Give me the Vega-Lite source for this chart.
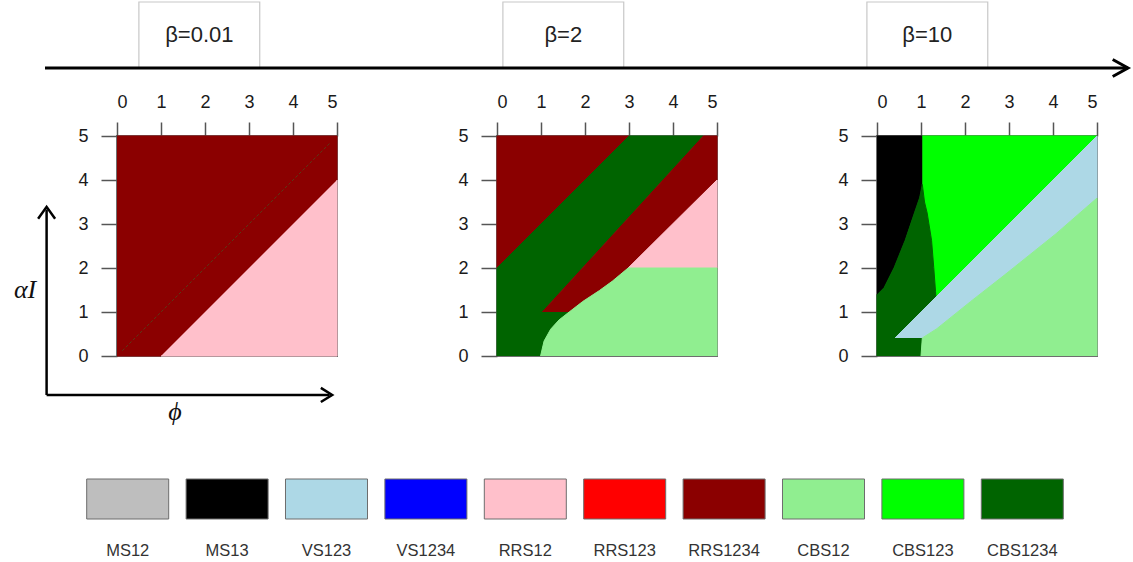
{
  "$schema": "https://vega.github.io/schema/vega-lite/v6.json",
  "padding": {"left": 12, "top": 1, "right": 0, "bottom": 0},
  "bounds": "flush",
  "spacing": 68,
  "config": {
    "view": {"stroke": "#6e6e6e", "strokeWidth": 2},
    "font": "Liberation Sans",
    "axis": {"labelFont": "Liberation Sans", "labelFontSize": 18, "labelColor": "#1a1a1a", "tickColor": "#555", "tickWidth": 1.5, "domain": false, "grid": false, "title": null}
  },
  "datasets": {
    "legend": [
      {"name": "MS12"}, {"name": "MS13"}, {"name": "VS123"}, {"name": "VS1234"}, {"name": "RRS12"},
      {"name": "RRS123"}, {"name": "RRS1234"}, {"name": "CBS12"}, {"name": "CBS123"}, {"name": "CBS1234"}
    ],
    "p1": [
      {"poly": "a", "region": "RRS1234", "i": 0, "phi": 0, "aI": 0},
      {"poly": "a", "region": "RRS1234", "i": 1, "phi": 1, "aI": 0},
      {"poly": "a", "region": "RRS1234", "i": 2, "phi": 5, "aI": 4},
      {"poly": "a", "region": "RRS1234", "i": 3, "phi": 5, "aI": 5},
      {"poly": "a", "region": "RRS1234", "i": 4, "phi": 0, "aI": 5},
      {"poly": "b", "region": "RRS12", "i": 0, "phi": 1, "aI": 0},
      {"poly": "b", "region": "RRS12", "i": 1, "phi": 5, "aI": 0},
      {"poly": "b", "region": "RRS12", "i": 2, "phi": 5, "aI": 4}
    ],
    "p2": [
      {"poly": "a", "region": "RRS1234", "i": 0, "phi": 0, "aI": 2},
      {"poly": "a", "region": "RRS1234", "i": 1, "phi": 0, "aI": 5},
      {"poly": "a", "region": "RRS1234", "i": 2, "phi": 3, "aI": 5},
      {"poly": "b", "region": "CBS1234", "i": 0, "phi": 0, "aI": 0},
      {"poly": "b", "region": "CBS1234", "i": 1, "phi": 0, "aI": 2},
      {"poly": "b", "region": "CBS1234", "i": 2, "phi": 3, "aI": 5},
      {"poly": "b", "region": "CBS1234", "i": 3, "phi": 4.69, "aI": 5},
      {"poly": "b", "region": "CBS1234", "i": 4, "phi": 1.03, "aI": 1},
      {"poly": "b", "region": "CBS1234", "i": 5, "phi": 1.64, "aI": 1},
      {"poly": "b", "region": "CBS1234", "i": 6, "phi": 1.41, "aI": 0.82},
      {"poly": "b", "region": "CBS1234", "i": 7, "phi": 1.22, "aI": 0.61},
      {"poly": "b", "region": "CBS1234", "i": 8, "phi": 1.07, "aI": 0.34},
      {"poly": "b", "region": "CBS1234", "i": 9, "phi": 0.99, "aI": 0},
      {"poly": "c", "region": "RRS1234", "i": 0, "phi": 1.03, "aI": 1},
      {"poly": "c", "region": "RRS1234", "i": 1, "phi": 4.69, "aI": 5},
      {"poly": "c", "region": "RRS1234", "i": 2, "phi": 5, "aI": 5},
      {"poly": "c", "region": "RRS1234", "i": 3, "phi": 5, "aI": 4},
      {"poly": "c", "region": "RRS1234", "i": 4, "phi": 2.98, "aI": 2},
      {"poly": "c", "region": "RRS1234", "i": 5, "phi": 2.62, "aI": 1.7},
      {"poly": "c", "region": "RRS1234", "i": 6, "phi": 2.33, "aI": 1.49},
      {"poly": "c", "region": "RRS1234", "i": 7, "phi": 1.95, "aI": 1.24},
      {"poly": "c", "region": "RRS1234", "i": 8, "phi": 1.64, "aI": 1},
      {"poly": "d", "region": "RRS12", "i": 0, "phi": 2.98, "aI": 2},
      {"poly": "d", "region": "RRS12", "i": 1, "phi": 5, "aI": 4},
      {"poly": "d", "region": "RRS12", "i": 2, "phi": 5, "aI": 2},
      {"poly": "e", "region": "CBS12", "i": 0, "phi": 0.99, "aI": 0},
      {"poly": "e", "region": "CBS12", "i": 1, "phi": 1.07, "aI": 0.34},
      {"poly": "e", "region": "CBS12", "i": 2, "phi": 1.22, "aI": 0.61},
      {"poly": "e", "region": "CBS12", "i": 3, "phi": 1.41, "aI": 0.82},
      {"poly": "e", "region": "CBS12", "i": 4, "phi": 1.64, "aI": 1},
      {"poly": "e", "region": "CBS12", "i": 5, "phi": 1.95, "aI": 1.24},
      {"poly": "e", "region": "CBS12", "i": 6, "phi": 2.33, "aI": 1.49},
      {"poly": "e", "region": "CBS12", "i": 7, "phi": 2.62, "aI": 1.7},
      {"poly": "e", "region": "CBS12", "i": 8, "phi": 2.98, "aI": 2},
      {"poly": "e", "region": "CBS12", "i": 9, "phi": 5, "aI": 2},
      {"poly": "e", "region": "CBS12", "i": 10, "phi": 5, "aI": 0}
    ],
    "p3": [
      {"poly": "a", "region": "MS13", "i": 0, "phi": 0, "aI": 5},
      {"poly": "a", "region": "MS13", "i": 1, "phi": 1.03, "aI": 5},
      {"poly": "a", "region": "MS13", "i": 2, "phi": 1.03, "aI": 3.9},
      {"poly": "a", "region": "MS13", "i": 3, "phi": 0.97, "aI": 3.6},
      {"poly": "a", "region": "MS13", "i": 4, "phi": 0.85, "aI": 3.25},
      {"poly": "a", "region": "MS13", "i": 5, "phi": 0.64, "aI": 2.63},
      {"poly": "a", "region": "MS13", "i": 6, "phi": 0.39, "aI": 2.01},
      {"poly": "a", "region": "MS13", "i": 7, "phi": 0.16, "aI": 1.55},
      {"poly": "a", "region": "MS13", "i": 8, "phi": 0, "aI": 1.39},
      {"poly": "b", "region": "CBS123", "i": 0, "phi": 1.03, "aI": 5},
      {"poly": "b", "region": "CBS123", "i": 1, "phi": 5, "aI": 5},
      {"poly": "b", "region": "CBS123", "i": 2, "phi": 1.34, "aI": 1.34},
      {"poly": "b", "region": "CBS123", "i": 3, "phi": 1.33, "aI": 1.47},
      {"poly": "b", "region": "CBS123", "i": 4, "phi": 1.29, "aI": 2.01},
      {"poly": "b", "region": "CBS123", "i": 5, "phi": 1.24, "aI": 2.63},
      {"poly": "b", "region": "CBS123", "i": 6, "phi": 1.14, "aI": 3.25},
      {"poly": "b", "region": "CBS123", "i": 7, "phi": 1.08, "aI": 3.5},
      {"poly": "b", "region": "CBS123", "i": 8, "phi": 1.03, "aI": 3.9},
      {"poly": "c", "region": "CBS1234", "i": 0, "phi": 0, "aI": 0},
      {"poly": "c", "region": "CBS1234", "i": 1, "phi": 0, "aI": 1.39},
      {"poly": "c", "region": "CBS1234", "i": 2, "phi": 0.16, "aI": 1.55},
      {"poly": "c", "region": "CBS1234", "i": 3, "phi": 0.39, "aI": 2.01},
      {"poly": "c", "region": "CBS1234", "i": 4, "phi": 0.64, "aI": 2.63},
      {"poly": "c", "region": "CBS1234", "i": 5, "phi": 0.85, "aI": 3.25},
      {"poly": "c", "region": "CBS1234", "i": 6, "phi": 0.97, "aI": 3.6},
      {"poly": "c", "region": "CBS1234", "i": 7, "phi": 1.03, "aI": 3.9},
      {"poly": "c", "region": "CBS1234", "i": 8, "phi": 1.08, "aI": 3.5},
      {"poly": "c", "region": "CBS1234", "i": 9, "phi": 1.14, "aI": 3.25},
      {"poly": "c", "region": "CBS1234", "i": 10, "phi": 1.24, "aI": 2.63},
      {"poly": "c", "region": "CBS1234", "i": 11, "phi": 1.29, "aI": 2.01},
      {"poly": "c", "region": "CBS1234", "i": 12, "phi": 1.33, "aI": 1.47},
      {"poly": "c", "region": "CBS1234", "i": 13, "phi": 1.34, "aI": 1.34},
      {"poly": "c", "region": "CBS1234", "i": 14, "phi": 0.41, "aI": 0.41},
      {"poly": "c", "region": "CBS1234", "i": 15, "phi": 1.03, "aI": 0.41},
      {"poly": "c", "region": "CBS1234", "i": 16, "phi": 1.0, "aI": 0},
      {"poly": "d", "region": "VS123", "i": 0, "phi": 0.41, "aI": 0.41},
      {"poly": "d", "region": "VS123", "i": 1, "phi": 5, "aI": 5},
      {"poly": "d", "region": "VS123", "i": 2, "phi": 5, "aI": 3.59},
      {"poly": "d", "region": "VS123", "i": 3, "phi": 4.07, "aI": 2.78},
      {"poly": "d", "region": "VS123", "i": 4, "phi": 2.91, "aI": 1.85},
      {"poly": "d", "region": "VS123", "i": 5, "phi": 2.13, "aI": 1.24},
      {"poly": "d", "region": "VS123", "i": 6, "phi": 1.36, "aI": 0.62},
      {"poly": "d", "region": "VS123", "i": 7, "phi": 1.03, "aI": 0.41},
      {"poly": "e", "region": "CBS12", "i": 0, "phi": 1.0, "aI": 0},
      {"poly": "e", "region": "CBS12", "i": 1, "phi": 1.03, "aI": 0.41},
      {"poly": "e", "region": "CBS12", "i": 2, "phi": 1.36, "aI": 0.62},
      {"poly": "e", "region": "CBS12", "i": 3, "phi": 2.13, "aI": 1.24},
      {"poly": "e", "region": "CBS12", "i": 4, "phi": 2.91, "aI": 1.85},
      {"poly": "e", "region": "CBS12", "i": 5, "phi": 4.07, "aI": 2.78},
      {"poly": "e", "region": "CBS12", "i": 6, "phi": 5, "aI": 3.59},
      {"poly": "e", "region": "CBS12", "i": 7, "phi": 5, "aI": 0}
    ]
  },
  "vconcat": [
    {
      "width": 1083,
      "height": 66,
      "view": {"stroke": null},
      "layer": [
        {
          "data": {"values": [{"beta": "β=0.01"}, {"beta": "β=2"}, {"beta": "β=10"}]},
          "mark": {"type": "rect", "fill": "transparent", "stroke": "#c8c8c8", "strokeWidth": 1.2},
          "encoding": {
            "x": {"field": "beta", "type": "nominal", "sort": null, "axis": null,
                  "scale": {"type": "band", "paddingInner": 0.668, "paddingOuter": 0.3216, "align": 0.401}}
          }
        },
        {
          "data": {"values": [{"beta": "β=0.01"}, {"beta": "β=2"}, {"beta": "β=10"}]},
          "mark": {"type": "text", "fontSize": 22, "font": "Liberation Sans", "color": "#222", "dy": 0},
          "encoding": {
            "x": {"field": "beta", "type": "nominal", "sort": null, "axis": null},
            "text": {"field": "beta"}
          }
        },
        {
          "data": {"values": [{"dir": "increasing β"}]},
          "mark": {"type": "rule", "strokeWidth": 3, "color": "black"},
          "encoding": {"y": {"value": "height"}}
        },
        {
          "data": {"values": [{"dir": "increasing β"}]},
          "mark": {"type": "point", "shape": "M-1.8,-1L0,0L-1.8,1", "size": 289, "filled": false, "stroke": "black", "strokeWidth": 3, "strokeJoin": "miter", "opacity": 1},
          "encoding": {"x": {"value": "width"}, "y": {"value": "height"}}
        }
      ]
    },
    {
      "bounds": "flush",
      "spacing": 343,
      "vconcat": [
        {
          "bounds": "flush",
          "spacing": 0,
          "hconcat": [
            {"width": 72, "height": 220, "view": {"stroke": null}, "data": {"values": []}, "mark": "point"},
            {
              "bounds": "flush",
              "spacing": 160,
              "hconcat": [
                {
                  "width": 220, "height": 220,
                  "layer": [
                    {
                      "data": {"name": "p1"},
                      "mark": {"type": "line", "strokeWidth": 1, "interpolate": "linear"},
                      "encoding": {
                        "x": {"field": "phi", "type": "quantitative", "scale": {"domain": [0, 5], "nice": false}, "axis": {"orient": "top", "values": [0, 1, 2, 3, 4, 5], "tickSize": 14, "labelPadding": 11}},
                        "y": {"field": "aI", "type": "quantitative", "scale": {"domain": [0, 5], "nice": false}, "axis": {"orient": "left", "values": [0, 1, 2, 3, 4, 5], "tickSize": 16, "labelPadding": 13}},
                        "detail": {"field": "poly"},
                        "order": {"field": "i"},
                        "fill": {"field": "region", "type": "nominal", "legend": null,
                                 "scale": {"domain": ["MS12", "MS13", "VS123", "VS1234", "RRS12", "RRS123", "RRS1234", "CBS12", "CBS123", "CBS1234"],
                                           "range": ["#bebebe", "#000000", "#add8e6", "#0000ff", "#ffc0cb", "#ff0000", "#8b0000", "#90ee90", "#00ff00", "#006400"]}},
                        "stroke": {"field": "region", "type": "nominal", "legend": null,
                                 "scale": {"domain": ["MS12", "MS13", "VS123", "VS1234", "RRS12", "RRS123", "RRS1234", "CBS12", "CBS123", "CBS1234"],
                                           "range": ["#bebebe", "#000000", "#add8e6", "#0000ff", "#ffc0cb", "#ff0000", "#8b0000", "#90ee90", "#00ff00", "#006400"]}}
                      }
                    },
                    {
                      "data": {"values": [{"phi": 0.12, "aI": 0.12, "phi2": 4.85, "aI2": 4.85}]},
                      "mark": {"type": "rule", "color": "#4f4a1e", "strokeWidth": 1, "strokeDash": [3, 2], "opacity": 0.8},
                      "encoding": {
                        "x": {"field": "phi", "type": "quantitative", "scale": {"domain": [0, 5], "nice": false}},
                        "y": {"field": "aI", "type": "quantitative", "scale": {"domain": [0, 5], "nice": false}},
                        "x2": {"field": "phi2"}, "y2": {"field": "aI2"}
                      }
                    },
                    {
                      "data": {"values": [{"phi": -1.6, "aI": -0.886, "phi2": -1.6, "aI2": 3.33}, {"phi": -1.6, "aI": -0.886, "phi2": 4.83, "aI2": -0.886}]},
                      "mark": {"type": "rule", "color": "black", "strokeWidth": 2.5},
                      "encoding": {
                        "x": {"field": "phi", "type": "quantitative", "scale": {"domain": [0, 5], "nice": false}},
                        "y": {"field": "aI", "type": "quantitative", "scale": {"domain": [0, 5], "nice": false}},
                        "x2": {"field": "phi2"}, "y2": {"field": "aI2"}
                      }
                    },
                    {
                      "data": {"values": [{"phi": -1.6, "aI": 3.39}]},
                      "mark": {"type": "point", "shape": "M-1,1.4L0,0L1,1.4", "size": 289, "filled": false, "stroke": "black", "strokeWidth": 2.5, "strokeJoin": "miter", "opacity": 1},
                      "encoding": {
                        "x": {"field": "phi", "type": "quantitative", "scale": {"domain": [0, 5], "nice": false}},
                        "y": {"field": "aI", "type": "quantitative", "scale": {"domain": [0, 5], "nice": false}}
                      }
                    },
                    {
                      "data": {"values": [{"phi": 4.89, "aI": -0.886}]},
                      "mark": {"type": "point", "shape": "M-1.6,-1L0,0L-1.6,1", "size": 200, "filled": false, "stroke": "black", "strokeWidth": 2.5, "strokeJoin": "miter", "opacity": 1},
                      "encoding": {
                        "x": {"field": "phi", "type": "quantitative", "scale": {"domain": [0, 5], "nice": false}},
                        "y": {"field": "aI", "type": "quantitative", "scale": {"domain": [0, 5], "nice": false}}
                      }
                    },
                    {
                      "data": {"values": [{"phi": -2.09, "aI": 1.5, "lab": "αI"}, {"phi": 1.32, "aI": -1.27, "lab": "ϕ"}]},
                      "mark": {"type": "text", "font": "Liberation Serif", "fontStyle": "italic", "fontSize": 26, "color": "#111"},
                      "encoding": {
                        "x": {"field": "phi", "type": "quantitative", "scale": {"domain": [0, 5], "nice": false}},
                        "y": {"field": "aI", "type": "quantitative", "scale": {"domain": [0, 5], "nice": false}},
                        "text": {"field": "lab"}
                      }
                    }
                  ]
                },
                {
                  "width": 220, "height": 220,
                  "data": {"name": "p2"},
                  "mark": {"type": "line", "strokeWidth": 1, "interpolate": "linear"},
                  "encoding": {
                    "x": {"field": "phi", "type": "quantitative", "scale": {"domain": [0, 5], "nice": false}, "axis": {"orient": "top", "values": [0, 1, 2, 3, 4, 5], "tickSize": 14, "labelPadding": 11}},
                    "y": {"field": "aI", "type": "quantitative", "scale": {"domain": [0, 5], "nice": false}, "axis": {"orient": "left", "values": [0, 1, 2, 3, 4, 5], "tickSize": 16, "labelPadding": 13}},
                    "detail": {"field": "poly"},
                    "order": {"field": "i"},
                    "fill": {"field": "region", "type": "nominal", "legend": null,
                             "scale": {"domain": ["MS12", "MS13", "VS123", "VS1234", "RRS12", "RRS123", "RRS1234", "CBS12", "CBS123", "CBS1234"],
                                       "range": ["#bebebe", "#000000", "#add8e6", "#0000ff", "#ffc0cb", "#ff0000", "#8b0000", "#90ee90", "#00ff00", "#006400"]}},
                    "stroke": {"field": "region", "type": "nominal", "legend": null,
                             "scale": {"domain": ["MS12", "MS13", "VS123", "VS1234", "RRS12", "RRS123", "RRS1234", "CBS12", "CBS123", "CBS1234"],
                                       "range": ["#bebebe", "#000000", "#add8e6", "#0000ff", "#ffc0cb", "#ff0000", "#8b0000", "#90ee90", "#00ff00", "#006400"]}}
                  }
                },
                {
                  "width": 220, "height": 220,
                  "data": {"name": "p3"},
                  "mark": {"type": "line", "strokeWidth": 1, "interpolate": "linear"},
                  "encoding": {
                    "x": {"field": "phi", "type": "quantitative", "scale": {"domain": [0, 5], "nice": false}, "axis": {"orient": "top", "values": [0, 1, 2, 3, 4, 5], "tickSize": 14, "labelPadding": 11}},
                    "y": {"field": "aI", "type": "quantitative", "scale": {"domain": [0, 5], "nice": false}, "axis": {"orient": "left", "values": [0, 1, 2, 3, 4, 5], "tickSize": 16, "labelPadding": 13}},
                    "detail": {"field": "poly"},
                    "order": {"field": "i"},
                    "fill": {"field": "region", "type": "nominal", "legend": null,
                             "scale": {"domain": ["MS12", "MS13", "VS123", "VS1234", "RRS12", "RRS123", "RRS1234", "CBS12", "CBS123", "CBS1234"],
                                       "range": ["#bebebe", "#000000", "#add8e6", "#0000ff", "#ffc0cb", "#ff0000", "#8b0000", "#90ee90", "#00ff00", "#006400"]}},
                    "stroke": {"field": "region", "type": "nominal", "legend": null,
                             "scale": {"domain": ["MS12", "MS13", "VS123", "VS1234", "RRS12", "RRS123", "RRS1234", "CBS12", "CBS123", "CBS1234"],
                                       "range": ["#bebebe", "#000000", "#add8e6", "#0000ff", "#ffc0cb", "#ff0000", "#8b0000", "#90ee90", "#00ff00", "#006400"]}}
                  }
                }
              ]
            }
          ]
        },
        {
          "width": 1060,
          "height": 40,
          "view": {"stroke": null},
          "data": {"name": "legend"},
          "mark": {"type": "rect", "stroke": "#6d6d6d", "strokeWidth": 1},
          "encoding": {
            "x": {"field": "name", "type": "nominal", "sort": null,
                  "scale": {"type": "band", "paddingInner": 0.175, "paddingOuter": 0.4195},
                  "axis": {"orient": "bottom", "title": null, "domain": false, "ticks": false, "tickSize": 0, "labelPadding": 23, "labelFontSize": 16.5, "labelColor": "#333", "labelAngle": 0}},
            "fill": {"field": "name", "type": "nominal", "legend": null,
                     "scale": {"domain": ["MS12", "MS13", "VS123", "VS1234", "RRS12", "RRS123", "RRS1234", "CBS12", "CBS123", "CBS1234"],
                               "range": ["#bebebe", "#000000", "#add8e6", "#0000ff", "#ffc0cb", "#ff0000", "#8b0000", "#90ee90", "#00ff00", "#006400"]}}
          }
        }
      ]
    }
  ]
}
